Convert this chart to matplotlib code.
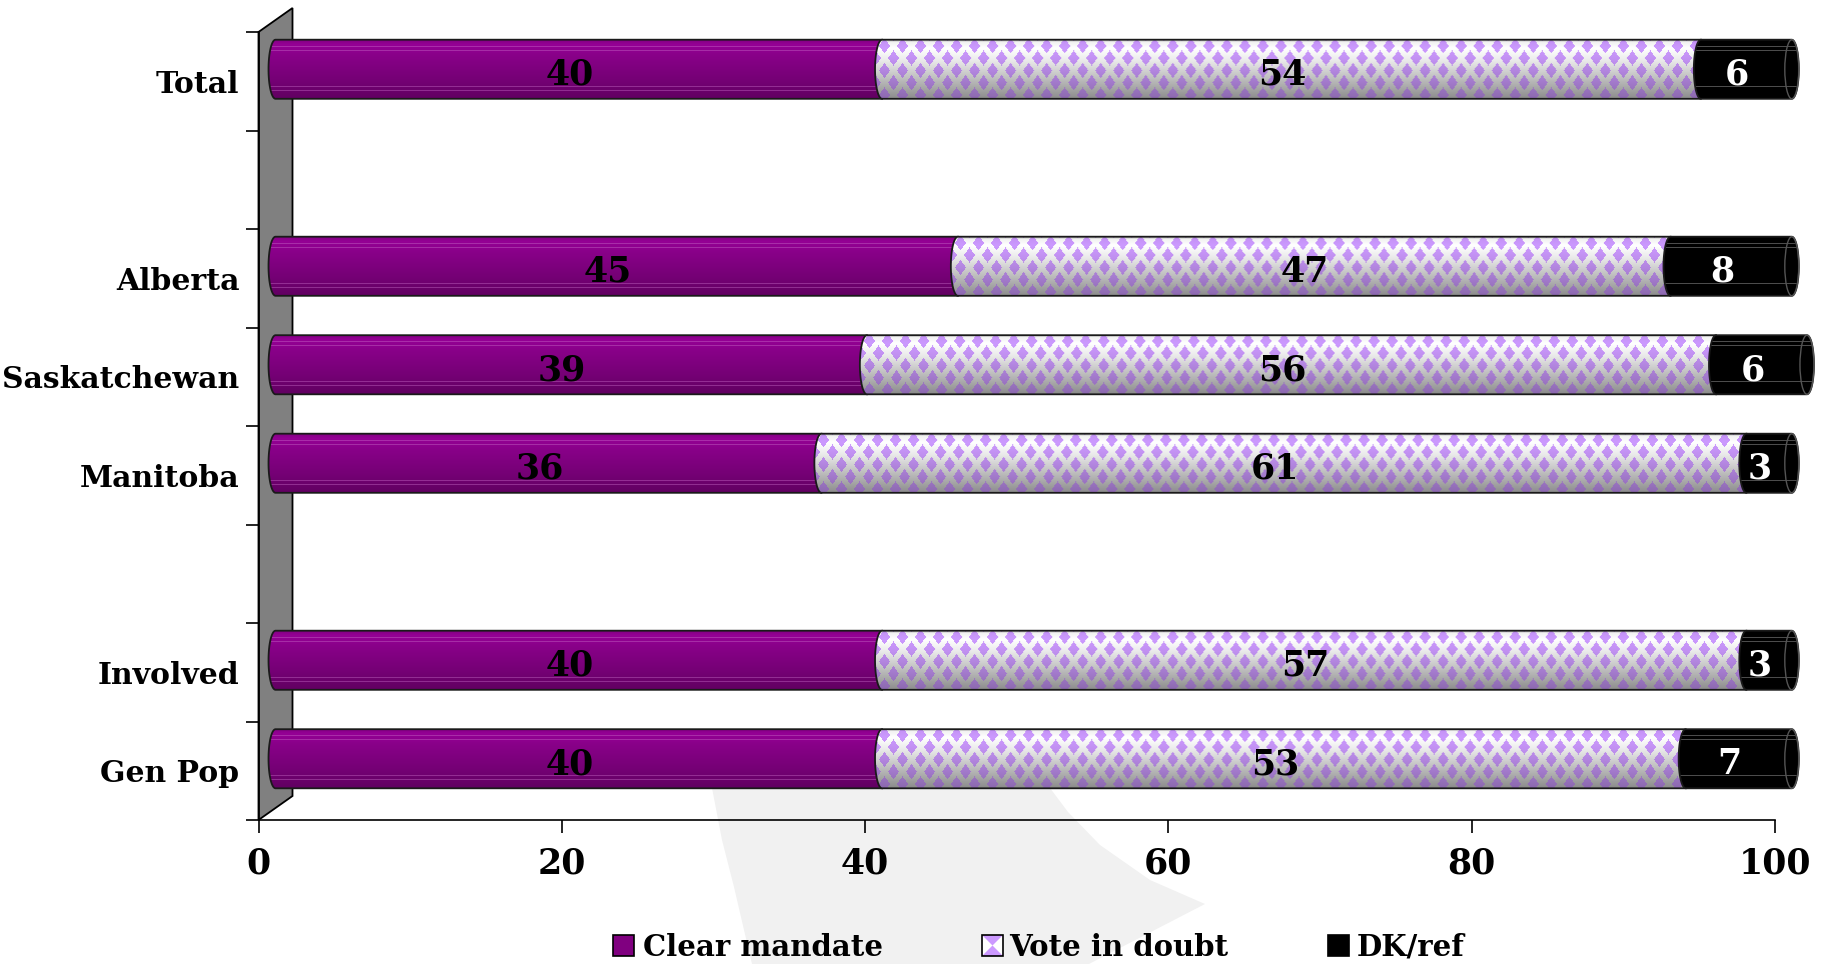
import numpy as np
import matplotlib
matplotlib.use('Agg')
import matplotlib.pyplot as plt
from matplotlib.path import Path
from matplotlib.patches import PathPatch, Polygon, Rectangle, Ellipse
from matplotlib.transforms import ScaledTranslation

# Survey results (percent)
categories = ['Total', '', 'Alberta', 'Saskatchewan', 'Manitoba', '', 'Involved', 'Gen Pop']
clear_mandate = [40, None, 45, 39, 36, None, 40, 40]
vote_in_doubt = [54, None, 47, 56, 61, None, 57, 53]
dk_ref = [6, None, 8, 6, 3, None, 3, 7]
series_names = ['Clear mandate', 'Vote in doubt', 'DK/ref']
x_ticks = [0, 20, 40, 60, 80, 100]

W, H = 1826, 964
FONT = 'DejaVu Serif'
plt.rcParams['font.family'] = FONT
plt.rcParams['font.weight'] = 'bold'

fig = plt.figure(figsize=(W / 100, H / 100), dpi=100)
ax_l, ax_r, ax_t, ax_b = 258.5, 1774.8, 32.0, 820.0
ax = fig.add_axes([ax_l / W, 1 - ax_b / H, (ax_r - ax_l) / W, (ax_b - ax_t) / H])
ax.set_facecolor('none')
ax.set_xlim(0, 100)
ax.set_ylim(7.5, -0.5)

px_x = (ax_r - ax_l) / 100.0   # pixels per percent
px_y = (ax_b - ax_t) / 8.0     # pixels per category slot
bar_h = 0.6
ex = 7.0 / px_x                # half-width of the cylinder end ellipse


def fpx(pts):
    return [(x / W, 1 - y / H) for x, y in pts]


# light swoosh in the background
swoosh = fpx([(712, 788), (722, 840), (734, 887), (744, 930), (752, 964),
              (1089, 964), (1205, 904), (1150, 880), (1100, 845), (1068, 812), (1050, 788)])
fig.patches.append(Polygon(swoosh, closed=True, transform=fig.transFigure,
                           facecolor='#f1f1f1', edgecolor='none', zorder=-5))

# grey back wall of the 3-D plot
dxa = 34.0 / (ax_r - ax_l)
dya = 24.0 / (ax_b - ax_t)
wall = Polygon([(0, 0), (0, 1), (dxa, 1 + dya), (dxa, dya)], closed=True,
               transform=ax.transAxes, facecolor='#808080', edgecolor='black',
               lw=1.3, clip_on=False, zorder=1)
ax.add_patch(wall)

# bars sit halfway into the depth of the wall
bar_tr = ax.transData + ScaledTranslation(0.17, 0.12, fig.dpi_scale_trans)
lbl_tr = ax.transData + ScaledTranslation(0.08, 0.12, fig.dpi_scale_trans)


def purple_tex(nx, ny):
    t = np.linspace(0, 1, ny)
    f = np.interp(t, [0, 0.08, 0.3, 0.7, 1], [0.95, 1.1, 1.0, 0.86, 0.72])
    col = np.outer(f, [0.53, 0.0, 0.53])
    for tl in (0.12, 0.2, 0.8, 0.87):
        r = int(tl * (ny - 1))
        col[r] = col[r] * 0.6 + np.array([0.8, 0.45, 0.8]) * 0.4
    return np.repeat(col[:, None, :], nx, axis=1)


def checker_tex(nx, ny):
    t = np.linspace(0, 1, ny)
    g = np.interp(t, [0, 0.05, 0.15, 0.35, 0.6, 0.85, 1.0],
                  [0.7, 0.95, 1.0, 0.92, 0.78, 0.64, 0.55])
    xx, yy = np.meshgrid(np.arange(nx), np.arange(ny))
    X = xx / 9.0
    Y = (yy + 6) / 12.3
    u = (X + Y) / 2
    v = (X - Y) / 2
    d = np.maximum(np.abs(u - np.round(u)), np.abs(v - np.round(v)))
    mask = d < 0.31
    gg = np.repeat(g[:, None], nx, axis=1)
    bg = gg[..., None] * np.ones(3)
    lav = np.array([0.8, 0.6, 1.0])
    dia = (0.3 + 0.7 * gg)[..., None] * lav
    return np.where(mask[..., None], dia, bg)


def black_tex(nx, ny):
    col = np.full((ny, 3), 0.0)
    for tl in (0.12, 0.2, 0.8):
        col[int(tl * (ny - 1))] = 0.3
    return np.repeat(col[:, None, :], nx, axis=1)


def segment_path(x0, x1, yc, cap):
    top, bot = yc - bar_h / 2, yc + bar_h / 2
    th = np.linspace(np.pi / 2, 3 * np.pi / 2, 30)
    verts = list(zip(x0 + ex * np.cos(th), yc - bar_h / 2 * np.sin(th)))
    if cap:
        th2 = np.linspace(3 * np.pi / 2, 5 * np.pi / 2, 30)
        verts += list(zip(x1 + ex * np.cos(th2), yc - bar_h / 2 * np.sin(th2)))
    else:
        verts += [(x1, bot), (x1, top)]
    verts.append(verts[0])
    codes = [Path.MOVETO] + [Path.LINETO] * (len(verts) - 2) + [Path.CLOSEPOLY]
    return Path(verts, codes)


textures = [purple_tex, checker_tex, black_tex]
label_colors = ['black', 'black', 'white']
ny = 60
for i, cat in enumerate(categories):
    if clear_mandate[i] is None:
        continue
    vals = [clear_mandate[i], vote_in_doubt[i], dk_ref[i]]
    left = 0
    for k, v in enumerate(vals):
        x0, x1 = left, left + v
        last = k == len(vals) - 1
        nx = max(int((x1 - x0 + 2 * ex) * px_x), 2)
        img = textures[k](nx, ny)
        path = segment_path(x0, x1, i, last)
        clip = PathPatch(path, transform=bar_tr, facecolor='none', edgecolor='none',
                         clip_on=False)
        ax.add_patch(clip)
        im = ax.imshow(img, extent=(x0 - ex, x1 + ex, i + bar_h / 2, i - bar_h / 2),
                       origin='upper', aspect='auto', interpolation='bilinear',
                       transform=bar_tr, zorder=2 + k * 0.1)
        im.set_clip_box(fig.bbox)
        im.set_clip_path(clip)
        ax.add_patch(PathPatch(path, transform=bar_tr, facecolor='none',
                               edgecolor='#1a1a1a', lw=1.3, zorder=2.05 + k * 0.1,
                               clip_on=False))
        if last:
            ax.add_patch(Ellipse((x1, i), 2 * ex, bar_h, transform=bar_tr,
                                 facecolor='none', edgecolor='#555555', lw=1.0,
                                 zorder=2.07 + k * 0.1, clip_on=False))
        ax.text(x0 + v / 2, i + 15.5 / px_y, str(v), transform=lbl_tr,
                ha='center', va='baseline', fontsize=25, fontweight='bold',
                color=label_colors[k], zorder=5)
        left = x1

ax.set_xlim(0, 100)
ax.set_ylim(7.5, -0.5)

# axes and ticks
for s in ('top', 'right'):
    ax.spines[s].set_visible(False)
for s in ('left', 'bottom'):
    ax.spines[s].set_linewidth(1.2)
    ax.spines[s].set_zorder(1.5)
ax.set_xticks(x_ticks)
ax.set_xticklabels([str(t) for t in x_ticks], fontsize=25, fontweight='bold')
ax.tick_params(axis='x', length=9.4, width=1.2, pad=10)
ax.set_yticks(np.arange(-0.5, 8, 1))
ax.set_yticklabels([])
ax.set_yticks(range(len(categories)), minor=True)
ax.set_yticklabels(categories, minor=True, fontsize=21.5, fontweight='bold')
ax.tick_params(axis='y', which='major', length=9.4, width=1.2)
ax.tick_params(axis='y', which='minor', length=0, pad=13.7)

# legend along the bottom
lavender = '#cc99ff'
legend_items = [(613, 643, '#800080'), (982, 1009, None), (1328, 1357, 'black')]
sq = 21
y_bot = 956
for (sx, tx, col), name in zip(legend_items, series_names):
    if col is None:
        fig.patches.append(Rectangle((sx / W, 1 - y_bot / H), sq / W, sq / H,
                                     transform=fig.transFigure, facecolor='white',
                                     edgecolor='none'))
        fig.patches.append(Polygon(fpx([(sx, y_bot - sq), (sx + sq, y_bot - sq), (sx + sq / 2, y_bot - sq / 2)]),
                                   transform=fig.transFigure, facecolor=lavender, edgecolor='none'))
        fig.patches.append(Polygon(fpx([(sx, y_bot), (sx + sq, y_bot), (sx + sq / 2, y_bot - sq / 2)]),
                                   transform=fig.transFigure, facecolor=lavender, edgecolor='none'))
        fig.patches.append(Rectangle((sx / W, 1 - y_bot / H), sq / W, sq / H,
                                     transform=fig.transFigure, facecolor='none',
                                     edgecolor='black', lw=1.2))
    else:
        fig.patches.append(Rectangle((sx / W, 1 - y_bot / H), sq / W, sq / H,
                                     transform=fig.transFigure, facecolor=col,
                                     edgecolor='black', lw=1.2))
    fig.text(tx / W, 1 - y_bot / H, name, ha='left', va='baseline',
             fontsize=21, fontweight='bold')

fig.savefig('out.png', dpi=100, facecolor='white')
